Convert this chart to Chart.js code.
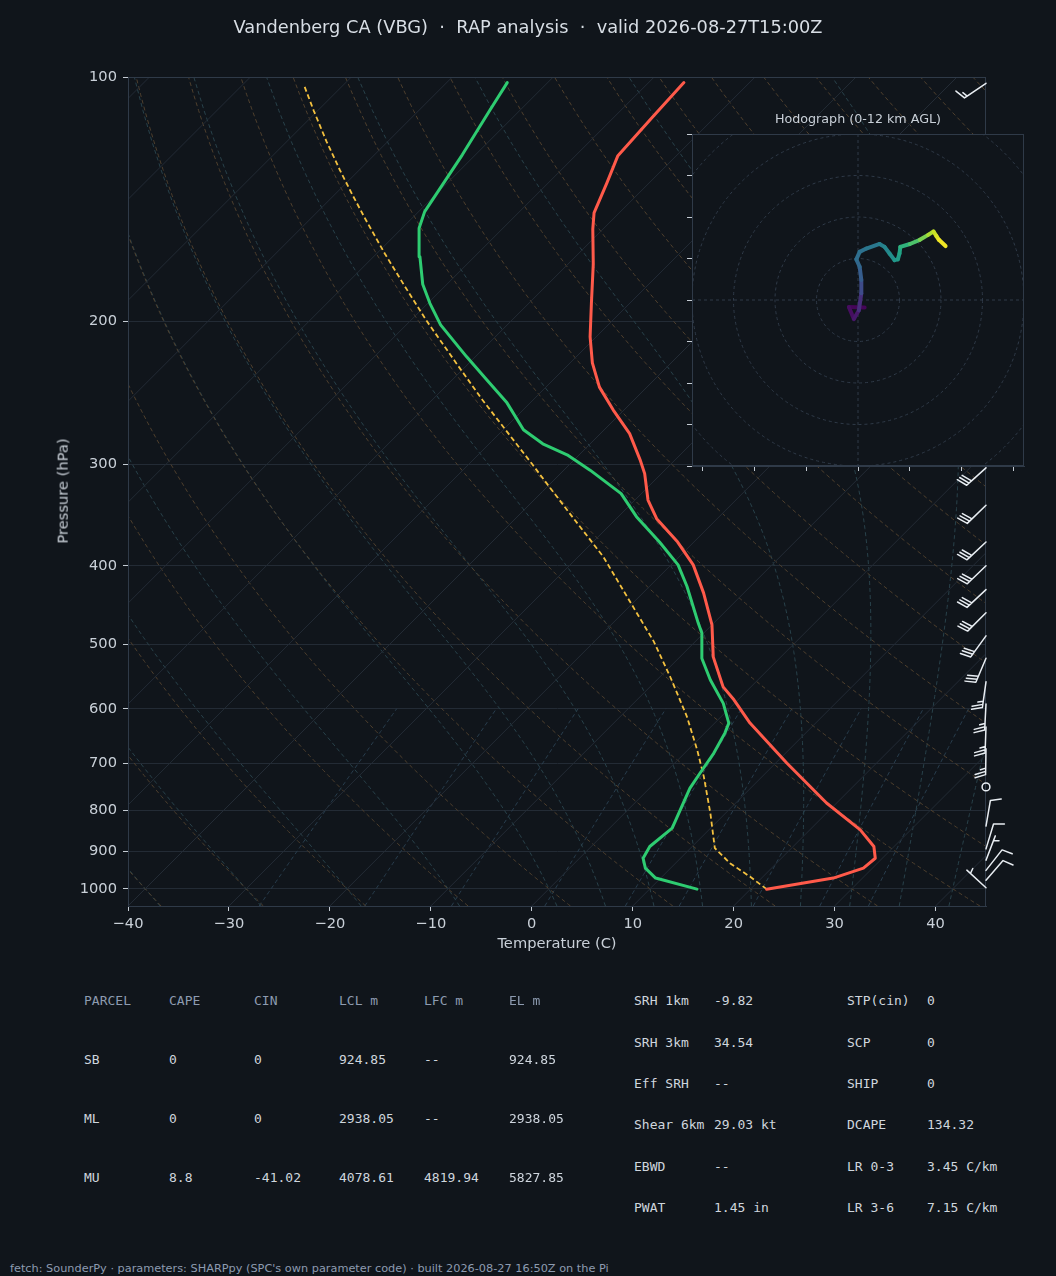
<!DOCTYPE html>
<html>
<head>
<meta charset="utf-8">
<title>Skew-T Vandenberg</title>
<script src="https://cdn.jsdelivr.net/npm/chart.js@4.4.1/dist/chart.umd.min.js"></script>
<style>
html,body{margin:0;padding:0;background:#10151b;}
body{position:relative;width:1056px;height:1276px;overflow:hidden;font-family:"DejaVu Sans",sans-serif;color:#d6dce3;}
canvas{position:absolute;display:block;}
#main{left:0;top:0;width:1056px;height:960px;}
#hodo{left:662px;top:104px;width:372px;height:376px;}
.t{position:absolute;white-space:pre;line-height:1;transform:translateY(-50%);}
.mono{font-family:"DejaVu Sans Mono",monospace;font-size:13px;}
</style>
</head>
<body>
<canvas id="main" width="1056" height="960"></canvas>
<canvas id="hodo" width="372" height="376"></canvas>
<script>
// ---------------- DATA ----------------
const TITLE = 'Vandenberg CA (VBG)  \u00b7  RAP analysis  \u00b7  valid 2026-08-27T15:00Z';
const FOOTER = "fetch: SounderPy \u00b7 parameters: SHARPpy (SPC's own parameter code) \u00b7 built 2026-08-27 16:50Z on the Pi";

// temperature profile (hPa, degC)
const T_P = [1001, 970, 943, 917, 887, 846, 784, 700, 625, 585, 564, 518, 473, 432, 399, 374, 350, 332, 308, 296, 275, 257, 241, 225, 209, 190, 170, 154, 147, 135, 125, 112, 101.6];
const T_C = [21.6, 27.1, 29.1, 29.3, 28.0, 25.0, 19.0, 11.1, 3.5, -0.4, -2.75, -6.7, -10.0, -14.0, -17.8, -21.6, -26.0, -28.7, -31.65, -33.5, -37.1, -41.1, -44.7, -47.8, -50.6, -53.8, -57.5, -61.0, -62.5, -64.2, -65.8, -66.2, -66.5];
// dewpoint profile
const TD_P = [1001, 970, 943, 917, 887, 842, 752, 720, 681, 643, 625, 591, 553, 520, 484, 471, 424, 399, 374, 348, 326, 305, 292, 283, 272, 252, 236, 221, 202, 190, 180, 166.5, 153.6, 146.5, 124.7, 109.8, 101.6];
const TD_C = [14.7, 9.5, 7.5, 6.3, 5.8, 6.2, 4.0, 3.5, 2.9, 2.0, 1.4, -1.1, -4.7, -7.7, -10.2, -11.5, -16.3, -19.3, -23.4, -28.2, -32.0, -37.4, -41.2, -44.7, -48.0, -52.3, -56.6, -60.9, -66.6, -69.8, -72.4, -75.4, -78.3, -79.4, -81.3, -83.0, -84.0];
// surface-based parcel trace
const PARCEL_P = [1001, 966, 930, 891, 807, 727, 674, 613.5, 548, 496, 443, 390, 345, 312, 300, 275, 250, 225, 200, 180, 165, 150, 140, 130, 120, 110, 102.3];
const PARCEL_C = [21.6, 18.7, 15.4, 12.4, 8.5, 4.2, 0.9, -3.4, -9.0, -14.1, -20.4, -27.5, -35.1, -41.3, -43.7, -49.1, -55.0, -61.3, -68.3, -74.3, -79.2, -84.4, -88.1, -92.0, -96.1, -100.4, -103.9];

// wind barbs (hPa, u kt, v kt)
const BARB_P = [101.8, 123, 138, 154, 173, 194, 217, 243, 272, 303, 337, 374, 400, 428, 457, 488, 520, 556, 592, 632, 672, 749, 837, 893, 922, 949, 976, 997];
const BARB_U = [12.4, 16.4, 24.6, 31.5, 34.5, 35.5, 34.5, 30.6, 26.0, 22.3, 21.6, 21.9, 21.6, 21.9, 21.2, 17.6, 11.7, 3.5, 1.3, 0.9, 0.4, 0.0, -1.7, -2.9, -1.8, -6.2, -6.6, 3.7];
const BARB_V = [8.4, 11.5, 17.2, 24.6, 28.9, 27.7, 28.9, 25.7, 23.4, 20.1, 20.8, 20.5, 20.8, 20.5, 21.2, 24.3, 27.6, 24.8, 25.0, 25.0, 25.0, 0.0, -9.9, -9.6, -4.7, -7.9, -7.6, -3.4];

// hodograph (u, v, height km)
const HODO_U = [1.6, -2.2, -1.0, 0.2, 0.8, 0.8, 0.4, -0.4, 0.4, 2.0, 5.2, 6.4, 7.6, 8.8, 9.6, 10.0, 10.2, 12.5, 14.9, 16.9, 18.2, 18.9, 19.5, 21.1];
const HODO_V = [-1.8, -1.7, -4.6, -2.5, 1.6, 4.8, 8.0, 9.8, 11.6, 12.4, 13.5, 12.8, 11.2, 9.6, 9.8, 11.2, 12.8, 13.5, 14.5, 15.7, 16.5, 15.4, 14.5, 13.0];
const HODO_Z = [0.0, 0.3, 0.6, 1.0, 2.2, 3.2, 3.8, 4.2, 4.4, 4.5, 5.0, 5.3, 5.6, 6.2, 6.4, 6.8, 7.2, 8.2, 9.0, 10.2, 10.8, 11.2, 11.5, 12.0];

// axes / ticks
const P_TICKS = [100, 200, 300, 400, 500, 600, 700, 800, 900, 1000];
const T_TICKS = [-40, -30, -20, -10, 0, 10, 20, 30, 40];
const HODO_XTICKS = [-37.5, -25, -12.5, 0, 12.5, 25, 37.5];
const HODO_YTICKS = [-40, -30, -20, -10, 0, 10, 20, 30, 40];
const HODO_RINGS = [10, 20, 30, 40, 50];
const ISOTHERMS = [-160, -150, -140, -130, -120, -110, -100, -90, -80, -70, -60, -50, -40, -30, -20, -10, 0, 10, 20, 30, 40];
const DRY_T0 = [-40, -30, -20, -10, 0, 10, 20, 30, 40, 50, 60, 70, 80, 90, 100, 110, 120, 130, 140, 150, 160, 170, 180, 190, 200];
const MOIST_T0 = [-40, -30, -20, -10, 0, 5, 10, 15, 20, 25, 30, 35, 40, 45];
const MIX_W = [0.0004, 0.001, 0.002, 0.004, 0.007, 0.01, 0.016, 0.024, 0.032];

// parameter tables
const PARCEL_HEAD = ['PARCEL', 'CAPE', 'CIN', 'LCL m', 'LFC m', 'EL m'];
const PARCEL_ROWS = [
  ['SB', '0', '0', '924.85', '--', '924.85'],
  ['ML', '0', '0', '2938.05', '--', '2938.05'],
  ['MU', '8.8', '-41.02', '4078.61', '4819.94', '5827.85']
];
const PARAM_A = [['SRH 1km', '-9.82'], ['SRH 3km', '34.54'], ['Eff SRH', '--'], ['Shear 6km', '29.03 kt'], ['EBWD', '--'], ['PWAT', '1.45 in']];
const PARAM_B = [['STP(cin)', '0'], ['SCP', '0'], ['SHIP', '0'], ['DCAPE', '134.32'], ['LR 0-3', '3.45 C/km'], ['LR 3-6', '7.15 C/km']];

// ---------------- STYLE ----------------
const BG = '#10151b', GRID = '#232b35', SPINE = '#2f3a48', TICK = '#c5ccd4', TXT = '#c9d0d8';
const DRY = '#4e3f2d', MOIST = '#28414a', MIX = '#283d4d';
const TEMP = '#ff5a4a', DEW = '#2ecc71', PARC = '#f4c13f', BARB = '#e8edf2';
const HEAD_C = '#8d9bb0', VAL_C = '#cfd6de';

// ---------------- GEOMETRY ----------------
const PMIN = 100, PMAX = 1050, TMIN = -40, TMAX = 45;
const PLOT_W = 858, PLOT_H = 829;
const SKEW = (PLOT_H / Math.log10(PMAX / PMIN)) / (PLOT_W / (TMAX - TMIN));
const skewX = (t, p) => t + SKEW * Math.log10(PMAX / p);

// thermodynamics for background reference lines
const Rd = 287.04749, Cp = 1004.6662184, Lv = 2.50084e6, EPS = 0.6219569, KAPPA = Rd / Cp;
const satVap = Tk => { const c = Tk - 273.15; return 6.112 * Math.exp(17.67 * c / (c + 243.5)); };
function dTdp(p, T) { const es = satVap(T); const rs = EPS * es / (p - es); return (1 / p) * (Rd * T + Lv * rs) / (Cp + (Lv * Lv * rs * EPS) / (Rd * T * T)); }
function rk4(p, T, h) { const k1 = dTdp(p, T), k2 = dTdp(p + h / 2, T + h * k1 / 2), k3 = dTdp(p + h / 2, T + h * k2 / 2), k4 = dTdp(p + h, T + h * k3); return T + h * (k1 + 2 * k2 + 2 * k3 + k4) / 6; }
function moistLine(t0) {
  const res = new Map(); let T = t0 + 273.15, p = 1000; res.set(1000, T);
  while (p > 100) { T = rk4(p, T, -2); p -= 2; if (p % 10 === 0) res.set(p, T); }
  T = t0 + 273.15; p = 1000;
  while (p < 1050) { T = rk4(p, T, 2); p += 2; if (p % 10 === 0) res.set(p, T); }
  return [...res.entries()].sort((a, b) => b[0] - a[0]).map(([pp, TT]) => ({x: skewX(TT - 273.15, pp), y: pp}));
}
function dryLine(t0) { const out = []; for (let p = 1050; p >= 100; p -= 5) { const T = (t0 + 273.15) * Math.pow(p / 1000, KAPPA) - 273.15; out.push({x: skewX(T, p), y: p}); } return out; }
function mixLine(w) { const out = []; for (let p = 1050; p >= 600; p -= 10) { const e = p * w / (EPS + w); const l = Math.log(e / 6.112); const td = 243.5 * l / (17.67 - l); out.push({x: skewX(td, p), y: p}); } return out; }
const prof = (P, C) => P.map((p, i) => ({x: skewX(C[i], p), y: p}));

const bgLine = (data, color, dash) => ({data, showLine: true, borderColor: color, borderWidth: 1, borderDash: dash || [], pointRadius: 0, fill: false, order: 10});
const datasets = [];
ISOTHERMS.forEach(t => datasets.push(bgLine([{x: skewX(t, PMAX), y: PMAX}, {x: skewX(t, PMIN), y: PMIN}], GRID)));
DRY_T0.forEach(t => datasets.push(bgLine(dryLine(t), DRY, [4, 3])));
MOIST_T0.forEach(t => datasets.push(bgLine(moistLine(t), MOIST, [4, 3])));
MIX_W.forEach(w => datasets.push(bgLine(mixLine(w), MIX, [4, 3])));
datasets.push({data: prof(PARCEL_P, PARCEL_C), showLine: true, borderColor: PARC, borderWidth: 1.8, borderDash: [5, 3], pointRadius: 0, order: 3});
datasets.push({data: prof(TD_P, TD_C), showLine: true, borderColor: DEW, borderWidth: 3, pointRadius: 0, borderJoinStyle: 'round', borderCapStyle: 'round', order: 2});
datasets.push({data: prof(T_P, T_C), showLine: true, borderColor: TEMP, borderWidth: 3, pointRadius: 0, borderJoinStyle: 'round', borderCapStyle: 'round', order: 1});

// ---------------- BARBS ----------------
function drawBarb(ctx, bx, by, u, v, L) {
  const spd = Math.hypot(u, v);
  let mag = 5 * Math.floor(spd / 5 + 0.5);
  const nflags = Math.floor(mag / 50); mag -= nflags * 50;
  const nbarbs = Math.floor(mag / 10); mag -= nbarbs * 10;
  const halfb = mag >= 5;
  const sp = L * 0.125, fh = L * 0.4, fw = L * 0.25, er = L * 0.15;
  if (!nflags && !nbarbs && !halfb) { ctx.beginPath(); ctx.arc(bx, by, er, 0, Math.PI * 2); ctx.stroke(); return; }
  const phi = Math.atan2(v, u) + Math.PI / 2, c = Math.cos(phi), s = Math.sin(phi);
  const tr = (x, y) => [bx + x * c - y * s, by - (x * s + y * c)];
  const verts = [[0, 0]]; let off = L;
  for (let i = 0; i < nflags; i++) { if (off !== L) off += sp / 2; verts.push([0, off], [fh, off - fw / 2], [0, off - fw]); off -= fw + sp; }
  for (let i = 0; i < nbarbs; i++) { verts.push([0, off], [fh, off + fw / 2], [0, off]); off -= sp; }
  if (halfb) { if (off === L) { verts.push([0, off]); off -= 1.5 * sp; } verts.push([0, off], [fh / 2, off + fw / 4], [0, off]); }
  ctx.beginPath();
  verts.forEach((pt, i) => { const q = tr(pt[0], pt[1]); if (i) ctx.lineTo(q[0], q[1]); else ctx.moveTo(q[0], q[1]); });
  ctx.closePath(); ctx.fill(); ctx.stroke();
}

const skewPlugin = {
  id: 'skewExtras',
  beforeDraw(chart) { const {ctx} = chart; ctx.save(); ctx.fillStyle = BG; ctx.fillRect(0, 0, chart.width, chart.height); ctx.restore(); },
  afterDatasetsDraw(chart) {
    const {ctx, chartArea: a, scales} = chart;
    ctx.save();
    ctx.strokeStyle = SPINE; ctx.lineWidth = 1;
    ctx.strokeRect(a.left + 0.5, a.top + 0.5, a.right - a.left - 1, a.bottom - a.top);
    ctx.strokeStyle = BARB; ctx.fillStyle = BARB; ctx.lineWidth = 1.5; ctx.lineJoin = 'round'; ctx.lineCap = 'butt';
    BARB_P.forEach((p, i) => drawBarb(ctx, a.right, scales.y.getPixelForValue(p), BARB_U[i], BARB_V[i], 26));
    ctx.restore();
  }
};

Chart.defaults.font.family = "'DejaVu Sans', sans-serif";
Chart.defaults.color = TXT;
const fmtT = v => v < 0 ? '\u2212' + Math.abs(v) : String(v);

new Chart(document.getElementById('main'), {
  type: 'scatter',
  data: {datasets},
  options: {
    responsive: false, animation: false, events: [],
    layout: {padding: {left: 0, top: 77, right: 70, bottom: 0}},
    plugins: {legend: {display: false}, tooltip: {enabled: false}, title: {display: false}},
    scales: {
      x: {type: 'linear', min: TMIN, max: TMAX, bounds: 'data',
        afterBuildTicks: s => { s.ticks = T_TICKS.map(v => ({value: v})); },
        afterFit: s => { s.height = 54; },
        grid: {drawOnChartArea: false, tickLength: 5, tickColor: TICK, tickWidth: 1},
        border: {color: SPINE, width: 1},
        ticks: {color: TXT, font: {size: 14.67}, padding: 4, maxRotation: 0, autoSkip: false, callback: v => fmtT(v)}},
      y: {type: 'logarithmic', reverse: true, min: PMIN, max: PMAX, bounds: 'data',
        afterBuildTicks: s => { s.ticks = P_TICKS.map(v => ({value: v})); },
        afterFit: s => { s.width = 128; },
        grid: {color: GRID, lineWidth: 1, tickLength: 5, tickColor: TICK, tickWidth: 1},
        border: {color: SPINE, width: 1},
        ticks: {color: TXT, font: {size: 14.67}, padding: 6, autoSkip: false, callback: v => String(v)}}
    }
  },
  plugins: [skewPlugin]
});

// ---------------- HODOGRAPH ----------------
const VIRIDIS = ['#440154', '#482475', '#414487', '#355f8d', '#2a788e', '#21918c', '#22a884', '#44bf70', '#7ad151', '#bddf26', '#fde725'];
function viridis(f) {
  f = Math.max(0, Math.min(1, f)); const x = f * (VIRIDIS.length - 1); const i = Math.min(Math.floor(x), VIRIDIS.length - 2); const t = x - i;
  const a = VIRIDIS[i], b = VIRIDIS[i + 1]; const h = (s, k) => parseInt(s.substr(1 + 2 * k, 2), 16);
  return 'rgb(' + [0, 1, 2].map(k => Math.round(h(a, k) + (h(b, k) - h(a, k)) * t)).join(',') + ')';
}
const ZMAX = 12;
const hodoPlugin = {
  id: 'hodoExtras',
  beforeDraw(chart) { const {ctx, chartArea: a} = chart; ctx.save(); ctx.fillStyle = BG; ctx.fillRect(a.left, a.top, a.right - a.left, a.bottom - a.top); ctx.restore(); },
  beforeDatasetsDraw(chart) {
    const {ctx, chartArea: a, scales: {x, y}} = chart;
    ctx.save(); ctx.beginPath(); ctx.rect(a.left, a.top, a.right - a.left, a.bottom - a.top); ctx.clip();
    ctx.strokeStyle = SPINE; ctx.lineWidth = 1; ctx.setLineDash([3, 3]);
    const cx = x.getPixelForValue(0), cy = y.getPixelForValue(0);
    HODO_RINGS.forEach(r => { const rp = x.getPixelForValue(r) - cx; ctx.beginPath(); ctx.arc(cx, cy, rp, 0, Math.PI * 2); ctx.stroke(); });
    ctx.beginPath(); ctx.moveTo(cx, a.top); ctx.lineTo(cx, a.bottom); ctx.moveTo(a.left, cy); ctx.lineTo(a.right, cy); ctx.stroke();
    ctx.restore();
  },
  afterDraw(chart) { const {ctx, chartArea: a} = chart; ctx.save(); ctx.strokeStyle = SPINE; ctx.lineWidth = 1; ctx.strokeRect(a.left + 0.5, a.top + 0.5, a.right - a.left - 1, a.bottom - a.top - 1); ctx.restore(); }
};
new Chart(document.getElementById('hodo'), {
  type: 'scatter',
  data: {datasets: [{
    data: HODO_U.map((u, i) => ({x: u, y: HODO_V[i]})), showLine: true, pointRadius: 0, borderWidth: 4,
    borderJoinStyle: 'round', borderCapStyle: 'round',
    segment: {borderColor: c => viridis((HODO_Z[c.p0DataIndex] + HODO_Z[c.p1DataIndex]) / 2 / ZMAX)},
    borderColor: viridis(0)
  }]},
  options: {
    responsive: false, animation: false, events: [],
    layout: {padding: {left: 0, top: 30, right: 10, bottom: 0}},
    plugins: {legend: {display: false}, tooltip: {enabled: false}},
    scales: {
      x: {type: 'linear', min: -40, max: 40, bounds: 'data',
        afterBuildTicks: s => { s.ticks = HODO_XTICKS.map(v => ({value: v})); },
        afterFit: s => { s.height = 14; },
        grid: {drawOnChartArea: false, tickLength: 5, tickColor: TICK}, border: {color: SPINE}, ticks: {display: false}},
      y: {type: 'linear', min: -40, max: 40, bounds: 'data',
        afterBuildTicks: s => { s.ticks = HODO_YTICKS.map(v => ({value: v})); },
        afterFit: s => { s.width = 30; },
        grid: {drawOnChartArea: false, tickLength: 5, tickColor: TICK}, border: {color: SPINE}, ticks: {display: false}}
    }
  },
  plugins: [hodoPlugin]
});

// ---------------- TEXT ----------------
function addText(txt, x, y, opts) {
  const d = document.createElement('div'); d.className = 't ' + (opts.cls || ''); d.textContent = txt;
  d.style.left = x + 'px'; d.style.top = y + 'px';
  if (opts.color) d.style.color = opts.color; if (opts.size) d.style.fontSize = opts.size + 'px';
  if (opts.transform) d.style.transform = opts.transform;
  document.body.appendChild(d); return d;
}
addText(TITLE, 528, 27, {size: 17.8, color: '#d8dee5', transform: 'translate(-50%,-50%)'});
addText('Hodograph (0-12 km AGL)', 858, 119, {size: 12.7, color: '#c9d0d8', transform: 'translate(-50%,-50%)'});
addText('Temperature (C)', 557, 943, {size: 14.67, color: TXT, transform: 'translate(-50%,-50%)'});
addText('Pressure (hPa)', 63, 491, {size: 14.67, color: TXT, transform: 'translate(-50%,-50%) rotate(-90deg)'});

const COLX = [84, 169, 254, 339, 424, 509];
PARCEL_HEAD.forEach((h, i) => addText(h, COLX[i], 1000, {cls: 'mono', color: HEAD_C}));
const ROWY = [1059, 1118, 1177];
PARCEL_ROWS.forEach((r, j) => r.forEach((v, i) => addText(v, COLX[i], ROWY[j], {cls: 'mono', color: VAL_C})));
const PY = [1000, 1042, 1083, 1124, 1166, 1207];
PARAM_A.forEach((r, j) => { addText(r[0], 634, PY[j], {cls: 'mono', color: VAL_C}); addText(r[1], 714, PY[j], {cls: 'mono', color: VAL_C}); });
PARAM_B.forEach((r, j) => { addText(r[0], 847, PY[j], {cls: 'mono', color: VAL_C}); addText(r[1], 927, PY[j], {cls: 'mono', color: VAL_C}); });
addText(FOOTER, 10, 1269, {size: 11.3, color: HEAD_C});
</script>
</body>
</html>
